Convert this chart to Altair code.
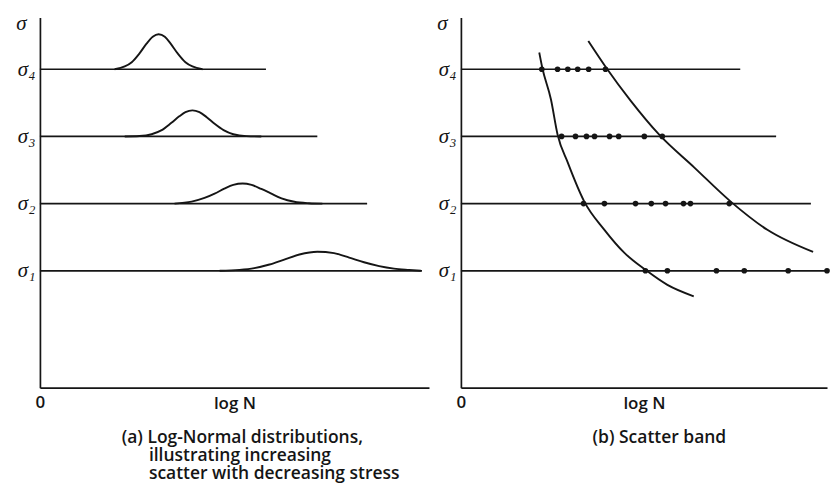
import altair as alt
import pandas as pd

INK = "#151515"
SANS = "Open Sans, Liberation Sans, sans-serif"
SERIF = "Liberation Serif, DejaVu Serif, serif"
NB = "\u00a0"
ZW = "\u200b"

LEVELS = [1, 2, 3, 4]
LEVEL_LABELS = ["σ₁", "σ₂", "σ₃", "σ₄"]

# ---------- (a) Log-normal distributions ----------
A_LINE_END = [98.2, 84.1, 71.3, 58.1]  # sigma1..sigma4

A1_X = [46.2, 51.3, 55.1, 59.0, 62.8, 66.7, 71.3, 75.6, 79.5, 83.3, 87.2, 91.0, 94.9, 97.9]
A1_H = [0.0, 0.014, 0.04, 0.093, 0.167, 0.242, 0.284, 0.262, 0.196, 0.127, 0.07, 0.033, 0.013, 0.0]
A2_X = [34.6, 39.0, 42.3, 44.9, 47.4, 49.7, 52.1, 54.4, 56.9, 59.2, 62.1, 65.4, 69.2, 72.6]
A2_H = [0.0, 0.03, 0.084, 0.149, 0.222, 0.278, 0.299, 0.278, 0.218, 0.157, 0.078, 0.027, 0.006, 0.0]
A3_X = [21.8, 25.6, 28.7, 31.3, 33.8, 35.9, 37.4, 39.2, 41.0, 42.8, 44.9, 47.2, 49.7, 53.1, 56.9]
A3_H = [0.0, 0.006, 0.033, 0.094, 0.203, 0.303, 0.361, 0.388, 0.361, 0.29, 0.188, 0.094, 0.033, 0.005, 0.0]
A4_X = [19.2, 21.8, 23.6, 25.6, 27.4, 29.0, 30.5, 32.1, 33.6, 35.4, 37.4, 39.2, 41.8]
A4_H = [0.0, 0.042, 0.106, 0.237, 0.381, 0.484, 0.522, 0.484, 0.381, 0.237, 0.106, 0.042, 0.0]

# ---------- (b) Scatter band ----------
B_LINE_END = [100.0, 95.6, 86.1, 76.3]
B1_PTS = [50.4, 56.4, 69.8, 77.4, 89.4, 100.0]
B2_PTS = [33.5, 39.2, 47.7, 52.0, 55.9, 60.8, 62.7, 73.3]
B3_PTS = [27.5, 31.3, 34.3, 36.5, 40.6, 43.1, 50.1, 55.0]
B4_PTS = [22.1, 26.4, 29.2, 31.9, 34.9, 39.5]
LOWER_X = [21.4, 22.2, 24.6, 26.4, 29.2, 33.7, 39.2, 44.6, 50.5, 56.4, 63.6]
LOWER_Y = [4.25, 4.03, 3.55, 3.03, 2.61, 2.03, 1.61, 1.27, 1.01, 0.79, 0.62]
UPPER_X = [34.8, 39.6, 46.4, 54.1, 63.7, 73.7, 83.7, 96.2]
UPPER_Y = [4.42, 4.03, 3.53, 3.03, 2.54, 2.03, 1.61, 1.28]

# ---------- tables ----------
lines_a = pd.DataFrame({"x": [0.0] * 4, "x2": A_LINE_END, "y": LEVELS})
curves_a = pd.concat([
    pd.DataFrame({"x": xs, "y": [lvl + h for h in hs], "g": lvl})
    for lvl, xs, hs in [(1, A1_X, A1_H), (2, A2_X, A2_H), (3, A3_X, A3_H), (4, A4_X, A4_H)]
])
lines_b = pd.DataFrame({"x": [0.0] * 4, "x2": B_LINE_END, "y": LEVELS})
dots_b = pd.concat([
    pd.DataFrame({"x": pts, "y": lvl})
    for lvl, pts in [(1, B1_PTS), (2, B2_PTS), (3, B3_PTS), (4, B4_PTS)]
])
curves_b = pd.concat([
    pd.DataFrame({"x": LOWER_X, "y": LOWER_Y, "g": "lower"}),
    pd.DataFrame({"x": UPPER_X, "y": UPPER_Y, "g": "upper"}),
])

xscale = alt.Scale(domain=[0, 100], nice=False, zero=False)
yscale = alt.Scale(domain=[-0.74, 4.77], nice=False, zero=False)

label_expr = "['', '" + "', '".join(LEVEL_LABELS) + "'][datum.value]"

xaxis = alt.Axis(
    values=[0], format="d", labelFlush=False, labelAlign="center",
    labelFont=SANS, labelFontSize=17, labelFontWeight=600, labelColor=INK,
    labelBaseline="alphabetic", labelPadding=20, ticks=False, tickSize=0,
    grid=False, domainColor=INK, domainWidth=1.7,
    title="log N", titleFont=SANS, titleFontSize=17, titleFontWeight=600,
    titleColor=INK, titleBaseline="alphabetic", titleY=21,
)
yaxis = alt.Axis(
    values=LEVELS, labelExpr=label_expr, labelFlush=False,
    labelFont=SERIF, labelFontStyle="italic", labelFontSize=21, labelColor=INK,
    labelBaseline="middle", labelPadding=5, ticks=False, tickSize=0,
    grid=False, domainColor=INK, domainWidth=1.7,
    title="σ", titleAngle=0, titleX=-19, titleY=6, titleAlign="center",
    titleBaseline="middle", titleFont=SERIF, titleFontStyle="italic",
    titleFontSize=21, titleFontWeight="normal", titleColor=INK,
)

X = alt.X("x:Q", scale=xscale, axis=xaxis)
Y = alt.Y("y:Q", scale=yscale, axis=yaxis)

left = alt.layer(
    alt.Chart(lines_a).mark_rule(color=INK, strokeWidth=1.7).encode(x=X, x2="x2:Q", y=Y),
    alt.Chart(curves_a).mark_line(color=INK, strokeWidth=1.9, interpolate="monotone").encode(
        x=X, y=Y, detail="g:N"),
).properties(
    width=390, height=371,
    title=alt.TitleParams(
        text=["(a) Log-Normal distributions,",
              ZW + NB * 6 + "illustrating increasing",
              ZW + NB * 6 + "scatter with decreasing stress"],
        orient="bottom", anchor="start", frame="group", dx=82, offset=17,
        font=SANS, fontSize=17.5, fontWeight=600, lineHeight=18.5, color=INK,
    ),
)

right = alt.layer(
    alt.Chart(lines_b).mark_rule(color=INK, strokeWidth=1.7).encode(x=X, x2="x2:Q", y=Y),
    alt.Chart(curves_b).mark_line(color=INK, strokeWidth=1.9, interpolate="monotone").encode(
        x=X, y=Y, detail="g:N"),
    alt.Chart(dots_b).mark_circle(color=INK, opacity=1, size=32).encode(x=X, y=Y),
).properties(
    width=367, height=371,
    title=alt.TitleParams(
        text="(b) Scatter band",
        orient="bottom", anchor="start", frame="group", dx=132, offset=17,
        font=SANS, fontSize=17.5, fontWeight=600, color=INK,
    ),
)

chart = alt.hconcat(left, right, spacing=7).properties(
    padding={"left": 7, "top": 4, "right": 0, "bottom": 0},
    background="white",
).configure_view(stroke=None)

chart.save("out.html", embed_options={"renderer": "svg", "actions": False})
